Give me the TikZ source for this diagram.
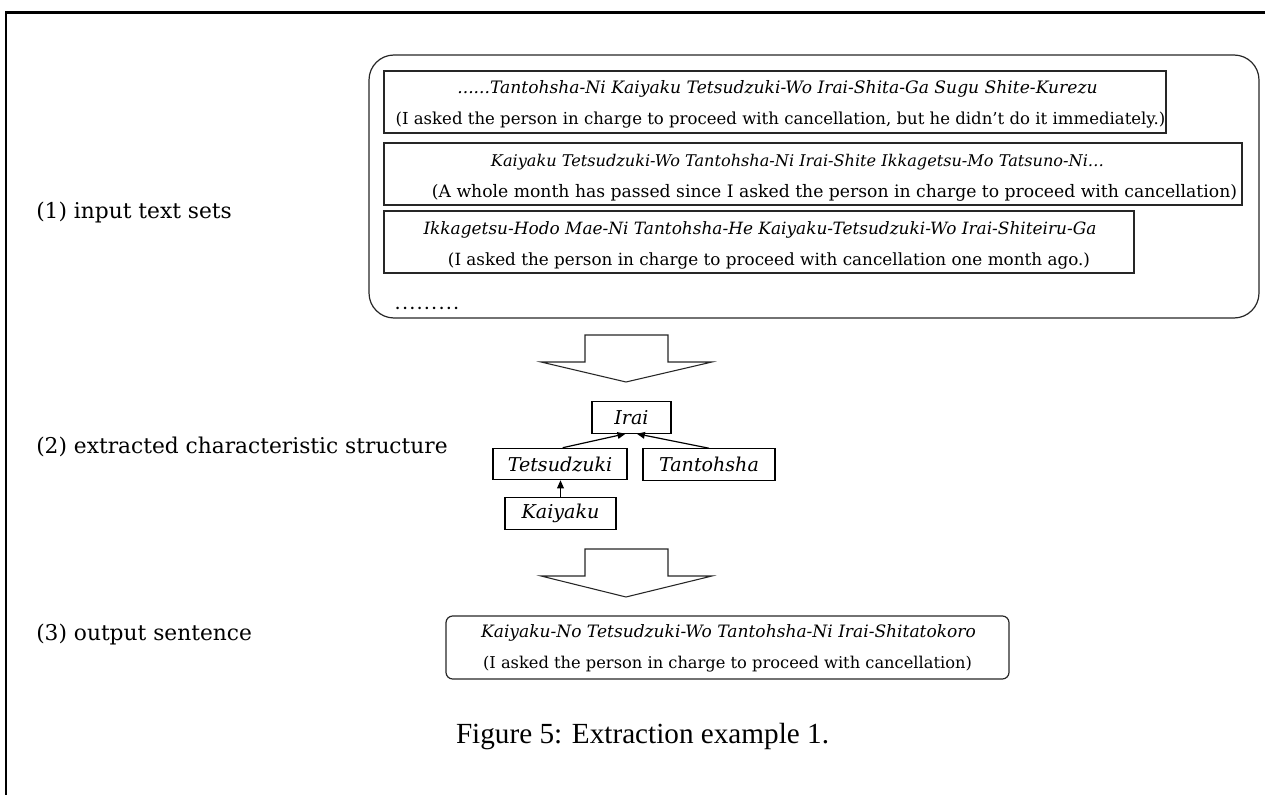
\documentclass[tikz,border=0pt]{standalone}
\usepackage{fontspec}
\setmainfont{DejaVu Serif}
\newfontfamily\capfont{Liberation Serif}
\usetikzlibrary{arrows.meta}

\tikzset{
  frame/.style={draw=black, line width=1.9pt},
  group/.style={draw=black!85, line width=0.9pt, rounded corners=18.75pt},
  sentbox/.style={draw=black!85, line width=0.9pt, minimum height=46.5pt, inner sep=0pt},
  jline/.style={font=\fontsize{#1}{15}\selectfont\itshape, inner sep=0pt},
  jline/.default=12.6,
  eline/.style={font=\fontsize{#1}{15}\selectfont, inner sep=0pt},
  eline/.default=12.6,
  steplabel/.style={font=\fontsize{16.3}{19}\selectfont, anchor=west, inner sep=0pt},
  wordbox/.style={draw=black, line width=0.9pt, font=\fontsize{14.3}{17}\selectfont\itshape, inner sep=0pt, minimum height=23.5pt},
  dep/.style={line width=0.9pt, -{Triangle[length=6pt,width=5pt]}},
  bigarrow/.style={draw=black!85, line width=0.8pt, fill=white},
  outbox/.style={draw=black!85, line width=0.9pt, rounded corners=5pt, minimum width=422.25pt, minimum height=47.25pt, inner sep=0pt},
}

\begin{document}
\begin{tikzpicture}[x=0.75pt,y=-0.75pt]
\useasboundingbox (0,0) rectangle (1265,795);

% page frame (left and top rules)
\draw[frame] (6,795) -- (6,12.5) -- (1265,12.5);

% step labels
\node[steplabel] (l1) at (36,213) {(1) input text sets};
\node[steplabel] (l2) at (36,447) {(2) extracted characteristic structure};
\node[steplabel] (l3) at (36,635) {(3) output sentence};

% (1) input text sets
\node[group, minimum width=667.5pt, minimum height=197.25pt] (inputs) at (814,186.5) {};
\node[sentbox, minimum width=586.5pt] (s1) at (775,102) {};
\node[sentbox, minimum width=643.5pt] (s2) at (813,174) {};
\node[sentbox, minimum width=562.5pt] (s3) at (759,242) {};

\node[jline=12.85] (s1j) at (777.5,89) {......Tantohsha-Ni Kaiyaku Tetsudzuki-Wo Irai-Shita-Ga Sugu Shite-Kurezu};
\node[eline=12.4] (s1e) at (780.5,120) {(I asked the person in charge to proceed with cancellation, but he didn’t do it immediately.)};
\node[jline=12.1] (s2j) at (797.5,162) {Kaiyaku Tetsudzuki-Wo Tantohsha-Ni Irai-Shite Ikkagetsu-Mo Tatsuno-Ni…};
\node[eline=12.9] (s2e) at (834.5,193) {(A whole month has passed since I asked the person in charge to proceed with cancellation)};
\node[jline=12.7] (s3j) at (760,230) {Ikkagetsu-Hodo Mae-Ni Tantohsha-He Kaiyaku-Tetsudzuki-Wo Irai-Shiteiru-Ga};
\node[eline=12.6] (s3e) at (769,261) {(I asked the person in charge to proceed with cancellation one month ago.)};
\node[eline=12, font=\bfseries] (more) at (427,308) {.\hspace{2pt}.\hspace{2pt}.\hspace{2pt}.\hspace{2pt}.\hspace{2pt}.\hspace{2pt}.\hspace{2pt}.\hspace{2pt}.};

% block arrows between the steps
\draw[bigarrow] (585,335) -- (668,335) -- (668,362) -- (712,362) -- (626,382) -- (541,362) -- (585,362) -- cycle;
\draw[bigarrow] (585,549) -- (668,549) -- (668,576) -- (712,576) -- (626,597) -- (541,576) -- (585,576) -- cycle;

% (2) dependency structure
\node[wordbox, minimum width=59.25pt] (irai) at (631.5,417.5) {Irai};
\node[wordbox, minimum width=100.5pt] (tets) at (560,464) {Tetsudzuki};
\node[wordbox, minimum width=99pt] (tant) at (709,464.5) {Tantohsha};
\node[wordbox, minimum width=83.25pt] (kai) at (560.5,513.5) {Kaiyaku};

\draw[dep] ([xshift=2pt]tets.north) -- ([xshift=-4.5pt]irai.south);
\draw[dep] (tant.north) -- ([xshift=4pt]irai.south);
\draw[dep] (kai.north) -- (kai.north |- tets.south);

% (3) output sentence
\node[outbox] (out) at (727.5,647.5) {};
\node[jline=12.8] (outj) at (728.5,633) {Kaiyaku-No Tetsudzuki-Wo Tantohsha-Ni Irai-Shitatokoro};
\node[eline=12.2] (oute) at (727.5,664) {(I asked the person in charge to proceed with cancellation)};

% caption
\node[font=\capfont\fontsize{21.9}{26}\selectfont, inner sep=0pt] (cap) at (642.5,737) {Figure 5: Extraction example 1.};
\end{tikzpicture}
\end{document}
